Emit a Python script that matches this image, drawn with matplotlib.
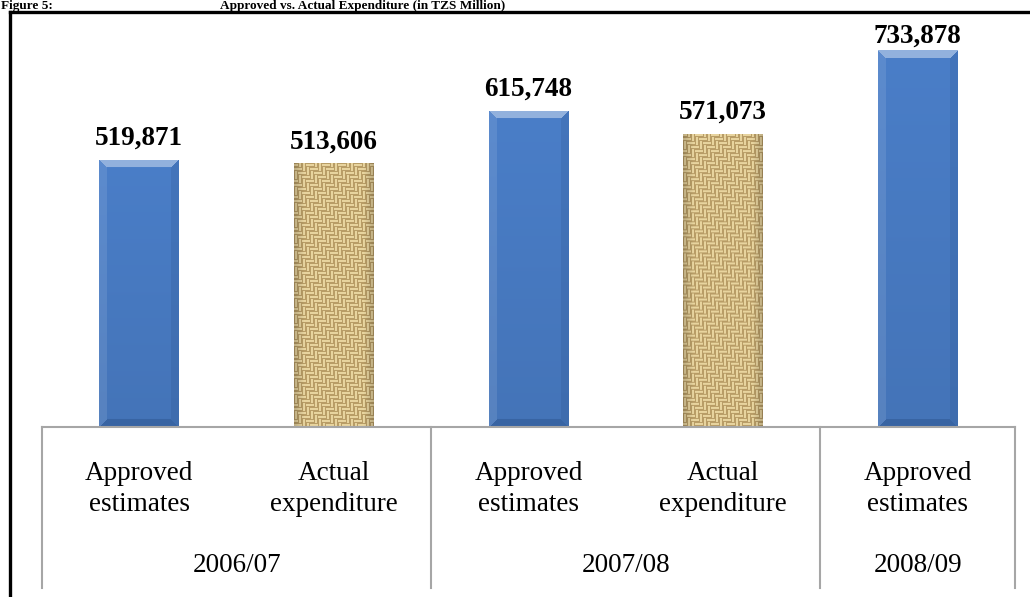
import numpy as np
import matplotlib
matplotlib.use("Agg")
import matplotlib.pyplot as plt
from matplotlib.lines import Line2D
from matplotlib.transforms import blended_transform_factory

# ---- data -------------------------------------------------------------
categories = ["Approved\nestimates", "Actual\nexpenditure",
              "Approved\nestimates", "Actual\nexpenditure",
              "Approved\nestimates"]
kinds = ["approved", "actual", "approved", "actual", "approved"]
values = [519871, 513606, 615748, 571073, 733878]
years = ["2006/07", "2007/08", "2008/09"]
year_spans = [(0, 1), (2, 3), (4, 4)]          # first/last category index per year
title_lead = "Figure 5:"
title_text = "Approved vs. Actual Expenditure (in TZS Million)"

# ---- layout -----------------------------------------------------------
W, H, DPI = 1030, 597, 100
SERIF = ["Liberation Serif", "DejaVu Serif"]
GRAY = "#a6a6a6"

fig = plt.figure(figsize=(W / DPI, H / DPI), dpi=DPI)
fig.patch.set_facecolor("white")


def fx(px):
    return px / W


def fy(py):  # py measured from top
    return 1 - py / H


ax_left, ax_right, ax_base, ax_top = 42, 1015, 427, 26.4
ax = fig.add_axes([fx(ax_left), fy(ax_base), fx(ax_right - ax_left),
                   (ax_base - ax_top) / H])
ax.set_xlim(-0.5, len(values) - 0.5)
ax.set_ylim(0, 780000)
ax.axis("off")


def blue_bevel(h, w):
    base = np.array([0x4a, 0x7e, 0xc8]) / 255.0
    yy, xx = np.mgrid[0:h, 0:w]
    img = np.tile(base, (h, w, 1))
    # gentle vertical shading
    shade = 1.0 - 0.08 * (yy / max(h - 1, 1))
    img = img * shade[..., None]
    b = 8
    d_top, d_bot = yy, h - 1 - yy
    d_left, d_right = xx, w - 1 - xx
    dmin = np.minimum(np.minimum(d_top, d_bot), np.minimum(d_left, d_right))
    white = np.ones(3)
    dark = np.array([0.12, 0.25, 0.45])
    top_m = (d_top == dmin) & (d_top < b)
    left_m = (d_left == dmin) & (d_left < b) & ~top_m
    right_m = (d_right == dmin) & (d_right < b) & ~top_m
    bot_m = (d_bot == dmin) & (d_bot < b) & ~top_m & ~left_m & ~right_m
    img[top_m] = img[top_m] * 0.6 + white * 0.4
    img[left_m] = img[left_m] * 0.9 + white * 0.1
    img[right_m] = img[right_m] * 0.85 + dark * 0.15
    img[bot_m] = img[bot_m] * 0.7 + dark * 0.3
    return np.clip(img, 0, 1)


def woven(h, w):
    yy, xx = np.mgrid[0:h, 0:w]
    cell = 4
    over_h = (((yy // cell) - (xx // cell)) % 4) < 2
    s_h = np.sin(np.pi * ((yy % cell) + 0.5) / cell)
    s_v = np.sin(np.pi * ((xx % cell) + 0.5) / cell)
    s = np.where(over_h, s_h, s_v)
    light = np.array([0xee, 0xdb, 0xa6]) / 255.0
    darkc = np.array([0x80, 0x5c, 0x24]) / 255.0
    img = darkc + (light - darkc) * s[..., None] ** 0.7
    # soft darker rim
    edge = np.minimum(xx, w - 1 - xx) / 10.0
    rim = 0.82 + 0.18 * np.clip(edge, 0, 1)
    img = img * rim[..., None]
    return np.clip(img, 0, 1)


bar_w = 0.41
px_per_unit_x = (ax_right - ax_left) / len(values)
px_per_unit_y = (ax_base - ax_top) / 780000
bars = ax.bar(range(len(values)), values, width=bar_w, color="#4a7ec8",
              edgecolor="none", zorder=2)
for rect, kind, v in zip(bars, kinds, values):
    x0, w = rect.get_x(), rect.get_width()
    hpx = max(int(round(v * px_per_unit_y)), 2)
    wpx = max(int(round(w * px_per_unit_x)), 2)
    tex = blue_bevel(hpx, wpx) if kind == "approved" else woven(hpx, wpx)
    im = ax.imshow(tex, extent=(x0, x0 + w, 0, v), aspect="auto",
                   interpolation="bilinear", zorder=3)
    im.set_clip_path(rect)

# value labels, kept inside the frame near the top
fig.canvas.draw()
for i, v in enumerate(values):
    xd, yd = ax.transData.transform((i, v))
    yl = min(yd + 15, H - 43)
    fig.text(xd / W, yl / H, f"{v:,}", ha="center", va="baseline",
             family=SERIF, fontweight="bold", fontsize=19.5, color="black")

# multi-level category table under the bars
tbl_bottom = 588
fig.add_artist(Line2D([fx(ax_left), fx(ax_right)], [fy(ax_base), fy(ax_base)],
                      color=GRAY, lw=1.5))
div_x = [ax_left] + [ax_left + (last + 1) * px_per_unit_x for _, last in year_spans]
for xpx in div_x:
    fig.add_artist(Line2D([fx(xpx), fx(xpx)], [fy(ax_base), fy(tbl_bottom)],
                          color=GRAY, lw=1.5))

tr = blended_transform_factory(ax.transData, fig.transFigure)
for i, lab in enumerate(categories):
    ax.text(i, fy(489), lab, transform=tr, ha="center", va="center",
            family=SERIF, fontsize=19.5, linespacing=1.35, clip_on=False)
for (first, last), yr in zip(year_spans, years):
    ax.text((first + last) / 2, fy(565), yr, transform=tr, ha="center",
            va="center", family=SERIF, fontsize=19.5, clip_on=False)

# figure frame and heading
fig.add_artist(Line2D([fx(10), fx(10)], [fy(12), fy(H + 5)], color="black", lw=2.4))
fig.add_artist(Line2D([fx(10), fx(W + 5)], [fy(12), fy(12)], color="black", lw=2.4))
fig.text(fx(1), fy(9), title_lead, ha="left", va="baseline", family=SERIF,
         fontweight="bold", fontsize=9.5)
fig.text(fx(220), fy(9), title_text, ha="left", va="baseline", family=SERIF,
         fontweight="bold", fontsize=9.5)

fig.savefig("out.png", dpi=DPI, facecolor="white")
